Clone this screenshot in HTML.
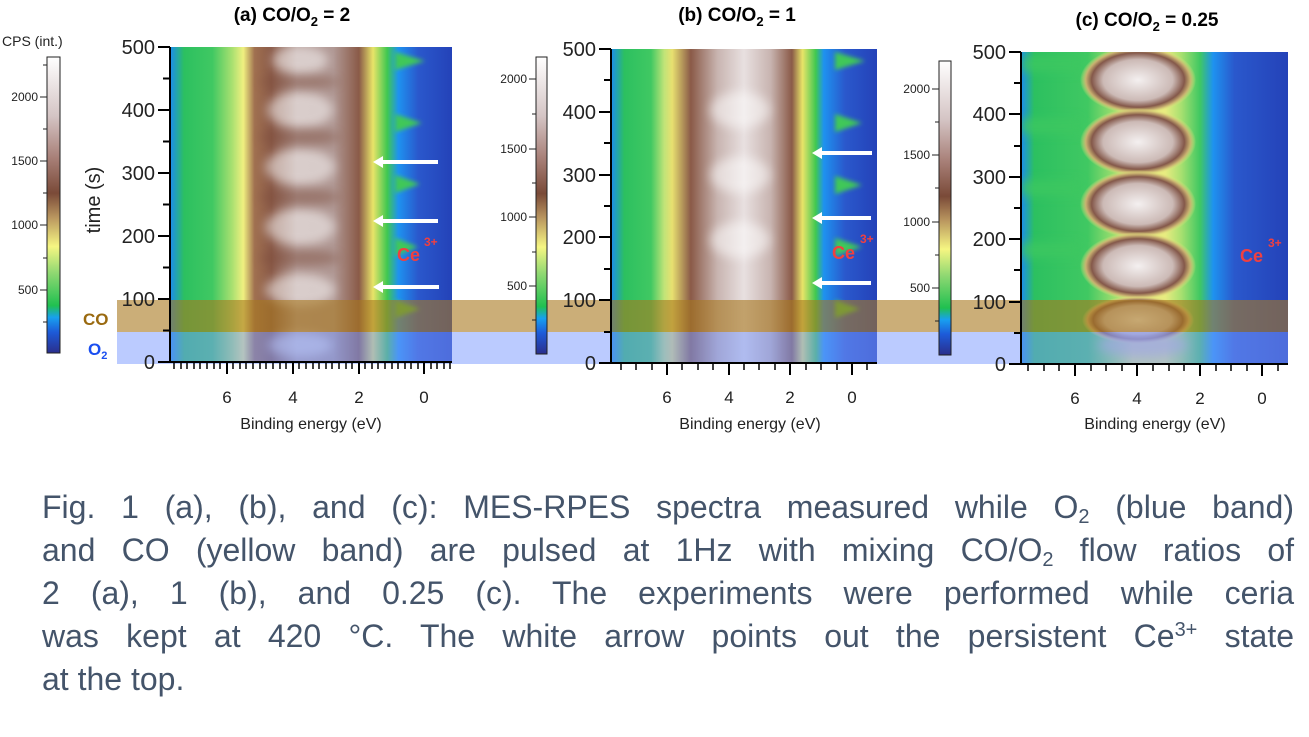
<!DOCTYPE html>
<html><head><meta charset="utf-8"><style>
body{margin:0;background:#fff;width:1309px;height:737px;overflow:hidden;font-family:"Liberation Sans",sans-serif}
.cap{position:absolute;left:42px;top:486px;width:1252px;font-size:32px;line-height:43px;color:#44546a}
.cap div{text-align:justify;text-align-last:justify;white-space:nowrap}
.cap div.last{text-align-last:left}
.cap sub{font-size:20px;vertical-align:-5px;line-height:0}
.cap sup{font-size:20px;vertical-align:11px;line-height:0}
</style></head><body>
<svg width="1309" height="737" style="position:absolute;left:0;top:0" font-family="Liberation Sans, sans-serif">
<defs>
<linearGradient id="cb" x1="0" y1="1" x2="0" y2="0">
<stop offset="0" stop-color="#2a2e8c"/><stop offset="0.07" stop-color="#1d5ad8"/><stop offset="0.12" stop-color="#18a0f0"/>
<stop offset="0.16" stop-color="#20c050"/><stop offset="0.27" stop-color="#8fd872"/><stop offset="0.36" stop-color="#f6f682"/>
<stop offset="0.46" stop-color="#b8945e"/><stop offset="0.54" stop-color="#7a4a38"/><stop offset="0.66" stop-color="#a88078"/>
<stop offset="0.8" stop-color="#d4c4c4"/><stop offset="1" stop-color="#ffffff"/></linearGradient>
<linearGradient id="ga" x1="0" y1="0" x2="1" y2="0">
<stop offset="0" stop-color="#1c8cf0"/><stop offset="0.05" stop-color="#2cc060"/><stop offset="0.15" stop-color="#40c862"/>
<stop offset="0.22" stop-color="#a8e070"/><stop offset="0.26" stop-color="#f0f080"/><stop offset="0.3" stop-color="#a07050"/>
<stop offset="0.36" stop-color="#8a5a48"/><stop offset="0.45" stop-color="#b49c98"/><stop offset="0.58" stop-color="#b09894"/>
<stop offset="0.67" stop-color="#8a5a48"/><stop offset="0.72" stop-color="#e8e468"/><stop offset="0.77" stop-color="#40c850"/>
<stop offset="0.81" stop-color="#1e92f0"/><stop offset="0.88" stop-color="#2a58cc"/><stop offset="1" stop-color="#2442b8"/></linearGradient>
<linearGradient id="gb" x1="0" y1="0" x2="1" y2="0">
<stop offset="0" stop-color="#1c8cf0"/><stop offset="0.05" stop-color="#2cc060"/><stop offset="0.15" stop-color="#40c862"/>
<stop offset="0.2" stop-color="#c0e478"/><stop offset="0.23" stop-color="#e8e070"/><stop offset="0.3" stop-color="#8a5a48"/>
<stop offset="0.4" stop-color="#c8b4b0"/><stop offset="0.5" stop-color="#e8e0e0"/><stop offset="0.6" stop-color="#c8b4b0"/>
<stop offset="0.68" stop-color="#8a5a48"/><stop offset="0.72" stop-color="#e8e468"/><stop offset="0.77" stop-color="#40c850"/>
<stop offset="0.8" stop-color="#1e92f0"/><stop offset="0.88" stop-color="#2a58cc"/><stop offset="1" stop-color="#2442b8"/></linearGradient>
<linearGradient id="gc" x1="0" y1="0" x2="1" y2="0">
<stop offset="0" stop-color="#1c8cf0"/><stop offset="0.05" stop-color="#2cc060"/><stop offset="0.25" stop-color="#40c862"/>
<stop offset="0.36" stop-color="#a8e070"/><stop offset="0.42" stop-color="#e8ec80"/><stop offset="0.54" stop-color="#e8ec80"/>
<stop offset="0.6" stop-color="#a8e070"/><stop offset="0.67" stop-color="#40c862"/><stop offset="0.72" stop-color="#1e92f0"/>
<stop offset="0.8" stop-color="#2a58cc"/><stop offset="1" stop-color="#2442b8"/></linearGradient>
<radialGradient id="egg"><stop offset="0" stop-color="#f4f0f0"/><stop offset="0.6" stop-color="#ccbab6"/><stop offset="0.8" stop-color="#84584a"/><stop offset="0.9" stop-color="#c8b070"/><stop offset="1" stop-color="#e8ec80" stop-opacity="0"/></radialGradient>
<filter id="bl" x="-50%" y="-50%" width="200%" height="200%"><feGaussianBlur stdDeviation="5"/></filter>
<filter id="bl2" x="-50%" y="-50%" width="200%" height="200%"><feGaussianBlur stdDeviation="2"/></filter>
<clipPath id="ca"><rect x="170" y="47" width="282" height="315"/></clipPath>
<clipPath id="cbp"><rect x="611" y="49" width="266" height="314"/></clipPath>
<clipPath id="cc"><rect x="1021" y="52" width="267" height="312"/></clipPath>
</defs>

<g clip-path="url(#ca)">
<rect x="170" y="47" width="282" height="315" fill="url(#ga)"/>
<g fill="#ffffff" opacity="0.5" filter="url(#bl)">
<ellipse cx="300" cy="60" rx="28" ry="14"/><ellipse cx="300" cy="110" rx="33" ry="18"/><ellipse cx="300" cy="167" rx="35" ry="18"/>
<ellipse cx="300" cy="227" rx="35" ry="18"/><ellipse cx="300" cy="290" rx="35" ry="16"/><ellipse cx="300" cy="345" rx="32" ry="12"/></g>
<g fill="#7a4a38" opacity="0.45" filter="url(#bl)">
<ellipse cx="300" cy="137" rx="40" ry="8"/><ellipse cx="300" cy="197" rx="40" ry="8"/><ellipse cx="300" cy="258" rx="40" ry="8"/><ellipse cx="300" cy="82" rx="40" ry="6"/></g>
<g fill="#40c858" filter="url(#bl2)">
<polygon points="395,52 425,61 395,70"/><polygon points="395,114 422,123 395,132"/><polygon points="395,175 420,184 395,193"/>
<polygon points="395,238 418,247 395,256"/><polygon points="395,300 420,309 395,318"/></g>
</g>
<g clip-path="url(#cbp)">
<rect x="611" y="49" width="266" height="314" fill="url(#gb)"/>
<g fill="#ffffff" opacity="0.5" filter="url(#bl)">
<ellipse cx="740" cy="110" rx="30" ry="18"/><ellipse cx="740" cy="175" rx="30" ry="18"/><ellipse cx="740" cy="240" rx="30" ry="18"/></g>
<g fill="#40c858" filter="url(#bl2)">
<polygon points="835,52 865,61 835,70"/><polygon points="835,114 862,123 835,132"/><polygon points="835,176 862,185 835,194"/>
<polygon points="835,238 862,247 835,256"/><polygon points="835,300 860,309 835,318"/></g>
</g>
<g clip-path="url(#cc)">
<rect x="1021" y="52" width="267" height="312" fill="url(#gc)"/>
<g fill="#3cc860" opacity="0.8" filter="url(#bl)">
<rect x="1021" y="56" width="60" height="16"/><rect x="1021" y="118" width="60" height="16"/><rect x="1021" y="180" width="60" height="16"/><rect x="1021" y="242" width="60" height="16"/></g>
<g fill="url(#egg)">
<ellipse cx="1138" cy="80" rx="58" ry="34"/><ellipse cx="1138" cy="142" rx="58" ry="34"/><ellipse cx="1138" cy="204" rx="58" ry="34"/><ellipse cx="1138" cy="266" rx="58" ry="34"/><ellipse cx="1138" cy="320" rx="56" ry="24"/></g>
<ellipse cx="1143" cy="345" rx="45" ry="12" fill="#c8b4d0" opacity="0.6" filter="url(#bl)"/>
</g>

<rect x="117" y="300" width="1171" height="32" fill="#a8781e" opacity="0.6"/>
<rect x="117" y="332" width="1171" height="32" fill="#7898ff" opacity="0.5"/>

<g stroke="#000" stroke-width="2" fill="none">
<path d="M170 47V362H452"/><path d="M611 49V363H877"/><path d="M1021 52V364H1288"/>
</g>
<g stroke="#000" stroke-width="2">
<path d="M158 47H170M158 110H170M158 173H170M158 236H170M158 299H170M158 362H170"/>
<path d="M163 78.5H170M163 141.5H170M163 204.5H170M163 267.5H170M163 330.5H170"/>
<path d="M599 49H611M599 112H611M599 175H611M599 237H611M599 300H611M599 363H611"/>
<path d="M604 80H611M604 143H611M604 206H611M604 269H611M604 332H611"/>
<path d="M1009 52H1021M1009 114H1021M1009 177H1021M1009 239H1021M1009 302H1021M1009 364H1021"/>
<path d="M1014 83H1021M1014 146H1021M1014 208H1021M1014 270H1021M1014 333H1021"/>
<path d="M227 362V374M293 362V374M359 362V374M424 362V374"/>
<path d="M667 363V375M729 363V375M790 363V375M852 363V375"/>
<path d="M1075 364V376M1137 364V376M1200 364V376M1262 364V376"/>
</g>
<g stroke="#000" stroke-width="1.5">
<path d="M174 362v7M181 362v7M187 362v7M194 362v7M200 362v7M207 362v7M214 362v7M220 362v7M233 362v7M240 362v7M246 362v7M253 362v7M260 362v7M266 362v7M273 362v7M280 362v7M286 362v7M299 362v7M306 362v7M313 362v7M319 362v7M326 362v7M332 362v7M339 362v7M346 362v7M352 362v7M365 362v7M372 362v7M378 362v7M385 362v7M392 362v7M398 362v7M405 362v7M411 362v7M418 362v7M431 362v7M437 362v7M444 362v7M450 362v7"/>
<path d="M621 363v7M636 363v7M652 363v7M682 363v7M698 363v7M713 363v7M744 363v7M759 363v7M775 363v7M806 363v7M821 363v7M837 363v7M867 363v7"/>
<path d="M1028 364v7M1044 364v7M1059 364v7M1091 364v7M1106 364v7M1122 364v7M1153 364v7M1169 364v7M1184 364v7M1216 364v7M1231 364v7M1247 364v7M1278 364v7"/>
</g>
<g font-size="20" fill="#222" text-anchor="end">
<text x="155" y="54">500</text><text x="155" y="117">400</text><text x="155" y="180">300</text><text x="155" y="243">200</text><text x="155" y="306">100</text><text x="155" y="369">0</text>
<text x="596" y="56">500</text><text x="596" y="119">400</text><text x="596" y="182">300</text><text x="596" y="244">200</text><text x="596" y="307">100</text><text x="596" y="370">0</text>
<text x="1006" y="59">500</text><text x="1006" y="121">400</text><text x="1006" y="184">300</text><text x="1006" y="246">200</text><text x="1006" y="309">100</text><text x="1006" y="371">0</text>
</g>
<g font-size="17" fill="#222" text-anchor="middle">
<text x="227" y="403">6</text><text x="293" y="403">4</text><text x="359" y="403">2</text><text x="424" y="403">0</text>
<text x="667" y="403">6</text><text x="729" y="403">4</text><text x="790" y="403">2</text><text x="852" y="403">0</text>
<text x="1075" y="404">6</text><text x="1137" y="404">4</text><text x="1200" y="404">2</text><text x="1262" y="404">0</text>
</g>
<g font-size="16" fill="#222" text-anchor="middle">
<text x="311" y="429">Binding energy (eV)</text><text x="750" y="429">Binding energy (eV)</text><text x="1155" y="429">Binding energy (eV)</text>
</g>
<text transform="translate(100,200) rotate(-90)" font-size="20" fill="#222" text-anchor="middle">time (s)</text>
<g font-size="19" font-weight="bold" fill="#000" text-anchor="middle">
<text x="292" y="21">(a) CO/O<tspan font-size="13" dy="5">2</tspan><tspan dy="-5"> = 2</tspan></text>
<text x="737" y="21">(b) CO/O<tspan font-size="13" dy="5">2</tspan><tspan dy="-5"> = 1</tspan></text>
<text x="1147" y="26">(c) CO/O<tspan font-size="13" dy="5">2</tspan><tspan dy="-5"> = 0.25</tspan></text>
</g>

<text x="2" y="46" font-size="14" fill="#222">CPS (int.)</text>
<rect x="47" y="57" width="13" height="296" fill="url(#cb)" stroke="#222" stroke-width="1"/>
<rect x="536" y="57" width="11" height="297" fill="url(#cb)" stroke="#222" stroke-width="1"/>
<rect x="939" y="61" width="12" height="294" fill="url(#cb)" stroke="#222" stroke-width="1"/>
<g stroke="#222" stroke-width="1">
<path d="M40 97h7M40 161h7M40 225h7M40 290h7M43 65h4M43 129h4M43 193h4M43 258h4M43 322h4"/>
<path d="M529 79h7M529 149h7M529 217h7M529 286h7M532 114h4M532 183h4M532 252h4M532 320h4"/>
<path d="M932 89h7M932 155h7M932 222h7M932 288h7M935 122h4M935 188h4M935 255h4M935 321h4"/>
</g>
<g font-size="12" fill="#222" text-anchor="end">
<text x="38" y="101">2000</text><text x="38" y="165">1500</text><text x="38" y="229">1000</text><text x="38" y="294">500</text>
<text x="527" y="83">2000</text><text x="527" y="153">1500</text><text x="527" y="221">1000</text><text x="527" y="290">500</text>
<text x="930" y="93">2000</text><text x="930" y="159">1500</text><text x="930" y="226">1000</text><text x="930" y="292">500</text>
</g>
<text x="83" y="325" font-size="17" font-weight="bold" fill="#9a6a10">CO</text>
<text x="88" y="355" font-size="17" font-weight="bold" fill="#1a4ef0">O<tspan font-size="11" dy="4">2</tspan></text>

<g fill="#fff">
<path d="M383 160h55v4h-55v4l-10-6 10-6z"/><path d="M383 219h55v4h-55v4l-10-6 10-6z"/><path d="M383 285h56v4h-56v4l-10-6 10-6z"/>
<path d="M822 151h50v4h-50v4l-10-6 10-6z"/><path d="M822 216h49v4h-49v4l-10-6 10-6z"/><path d="M822 281h49v4h-49v4l-10-6 10-6z"/>
</g>
<g fill="#f04040" font-weight="bold">
<text x="397" y="261" font-size="18">Ce</text><text x="424" y="246" font-size="12">3+</text>
<text x="832" y="259" font-size="18">Ce</text><text x="860" y="243" font-size="12">3+</text>
<text x="1240" y="262" font-size="18">Ce</text><text x="1268" y="247" font-size="12">3+</text>
</g>
</svg>
<div class="cap">
<div>Fig. 1 (a), (b), and (c): MES-RPES spectra measured while O<sub>2</sub> (blue band)</div>
<div>and CO (yellow band) are pulsed at 1Hz with mixing CO/O<sub>2</sub> flow ratios of</div>
<div>2 (a), 1 (b), and 0.25 (c). The experiments were performed while ceria</div>
<div>was kept at 420 °C. The white arrow points out the persistent Ce<sup>3+</sup> state</div>
<div class="last">at the top.</div>
</div>
</body></html>
